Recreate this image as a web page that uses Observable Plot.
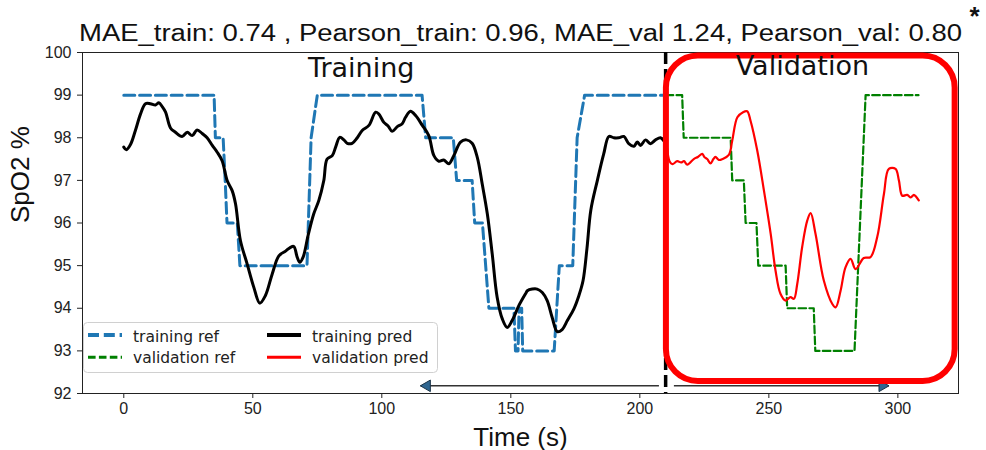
<!DOCTYPE html>
<html>
<head>
<meta charset="utf-8">
<script src="https://cdn.jsdelivr.net/npm/d3@7"></script>
<script src="https://cdn.jsdelivr.net/npm/@observablehq/plot@0.6"></script>
<style>
  body { margin: 0; background: #fff; }
  #chart { position: relative; width: 986px; height: 450px; }
  #legend { position: absolute; left: 83px; top: 322px; }
</style>
</head>
<body>
<div id="chart"></div>
<script>
// Each series is a list of [time (s), SpO2 (%)] samples.
const trainingRef = [
  [0, 99], [35, 99], [35.5, 98], [38.5, 98], [39.3, 97], [40, 96], [44, 96], [45, 95],
  [71, 95], [72.6, 98], [75, 99], [115.6, 99], [117, 98], [127.7, 98], [129, 97], [135, 97],
  [136, 96], [139, 96], [141.5, 94], [151.2, 94], [151.8, 93], [152.8, 93], [153.2, 94],
  [154.2, 94], [154.6, 93], [166.8, 93], [168.8, 95], [174, 95], [175.7, 98], [178.6, 99],
  [209.5, 99]
];

const validationRef = [
  [210, 99], [216.4, 99], [217, 98], [235.2, 98], [235.8, 97], [240.3, 97], [241, 96],
  [245.2, 96], [245.9, 95], [256.5, 95], [257.1, 94], [267.4, 94], [268, 93], [283.2, 93],
  [287.5, 99], [308, 99]
];

const trainingPred = [
  [0, 97.78], [1, 97.72], [2.6, 97.84], [4.5, 98.17], [6.5, 98.56], [8.4, 98.8], [10.3, 98.8],
  [12.3, 98.77], [13.6, 98.82], [14.9, 98.73], [16.2, 98.6], [18.1, 98.23], [20, 98.13],
  [22.6, 98.03], [24.6, 98.13], [26.5, 98.05], [28.4, 98.18], [30.4, 98.1], [32.3, 98.0],
  [34.3, 97.82], [36.2, 97.66], [38.1, 97.46], [40.1, 96.99], [42, 96.76], [43.3, 96.45],
  [45.2, 95.59], [47.8, 95.04], [50.4, 94.49], [52.7, 94.12], [54.9, 94.3], [57.5, 94.8],
  [60.1, 95.23], [62.7, 95.34], [64.6, 95.43], [65.9, 95.45], [67.2, 95.2], [68.2, 95.08],
  [69.5, 95.2], [71.4, 95.7], [73.6, 96.21], [75.6, 96.53], [77.5, 96.99], [78.8, 97.5],
  [80.8, 97.58], [82.1, 97.78], [83.7, 98.01], [85.3, 97.95], [86.6, 97.87], [88.5, 97.87],
  [90.5, 98.0], [92.4, 98.17], [95, 98.29], [97.6, 98.6], [98.8, 98.56], [100.8, 98.36],
  [102.5, 98.27], [104, 98.15], [106, 98.26], [107.9, 98.33], [109.2, 98.48], [111.1, 98.62],
  [113.1, 98.52], [115.7, 98.29], [118.2, 98.05], [120.2, 97.58], [122.1, 97.45], [124, 97.48],
  [126, 97.39], [127.9, 97.58], [130.5, 97.9], [132.8, 97.95], [135, 97.87], [137, 97.54],
  [138.9, 96.92], [140.9, 96.21], [142.8, 95.27], [144.7, 94.26], [146.7, 93.75], [148.6, 93.55],
  [150.5, 93.71], [153.1, 94.06], [155.7, 94.34], [156.4, 94.41], [158.3, 94.45], [160.2, 94.45],
  [162.2, 94.37], [164.1, 94.18], [166, 93.79], [168, 93.45], [169.9, 93.5], [171.9, 93.71],
  [174.4, 93.98], [176.4, 94.3], [178, 94.65], [179.5, 95.4], [181, 96.3], [183.5, 96.99],
  [186, 97.62], [188, 98.03], [189.9, 98.0], [191.8, 98.0], [193.8, 98.03], [195.7, 97.86],
  [197.7, 97.8], [199, 97.9], [200.3, 97.82], [202.2, 97.95], [204.1, 97.86], [206.1, 97.95],
  [208, 98.0], [209.3, 97.93]
];

const validationPred = [
  [210.6, 97.75], [211.5, 97.45], [212.6, 97.38], [214.5, 97.45], [216, 97.42], [217.1, 97.45],
  [218.4, 97.37], [220.9, 97.5], [222.5, 97.55], [224.2, 97.62], [225, 97.55], [226.1, 97.5],
  [227.4, 97.4], [228.5, 97.5], [229.3, 97.55], [230.6, 97.48], [232, 97.5], [234.5, 97.6],
  [235.8, 97.93], [237.8, 98.48], [240, 98.6], [241.6, 98.62], [242.9, 98.4], [245.5, 97.7],
  [248.1, 96.76], [250.7, 95.75], [252.6, 94.88], [254.5, 94.34], [256.5, 94.18], [258.4, 94.26],
  [259.7, 94.22], [261, 94.57], [262.9, 95.43], [264.9, 96.06], [266.2, 96.23], [268.1, 95.74],
  [271.3, 94.65], [274.6, 94.1], [275.9, 94.02], [277.8, 94.41], [279.7, 94.96], [281.7, 95.16],
  [283.6, 94.92], [286.8, 95.18], [289.4, 95.2], [292, 95.67], [294.6, 96.68], [296.5, 97.27],
  [299.1, 97.27], [300.4, 97.0], [301.7, 96.64], [303.6, 96.66], [305, 96.6], [306.2, 96.66],
  [307, 96.62], [308.1, 96.53]
];

const xTicks = [0, 50, 100, 150, 200, 250, 300];
const yTicks = [92, 93, 94, 95, 96, 97, 98, 99, 100];

const metricsTitle = "MAE_train: 0.74 , Pearson_train: 0.96, MAE_val 1.24, Pearson_val: 0.80";
const yLabel = "SpO2 %";
const xLabel = "Time (s)";

// boundary between the training and validation segments (s)
const splitTime = [210];
const phaseLabels = [
  { text: "Training", t: 92, v: 99.42 },
  { text: "Validation", t: 263, v: 99.47 }
];
// span arrows running out from the split line
const spanArrows = [
  { from: 207.4, to: 115, v: 92.18 },
  { from: 213.2, to: 296.5, v: 92.18 }
];
// highlighted validation region
const validationBox = [{ t1: 210.3, t2: 322.2, v1: 92.28, v2: 99.92 }];

const legendLabels = ["training ref", "validation ref", "training pred", "validation pred"];

// drawing styles per series
const seriesStyle = {
  "training ref":    { stroke: "#1f77b4", width: 3,   dash: "11,4.8",  curve: "linear" },
  "validation ref":  { stroke: "#008000", width: 2.2, dash: "7.6,3.3", curve: "linear" },
  "training pred":   { stroke: "#000000", width: 3,   dash: null,      curve: "catmull-rom" },
  "validation pred": { stroke: "#ff0000", width: 2.2, dash: null,      curve: "catmull-rom" }
};

const seriesLine = (data, name) => {
  const s = seriesStyle[name];
  return Plot.line(data, {
    x: d => d[0], y: d => d[1],
    stroke: s.stroke, strokeWidth: s.width,
    strokeDasharray: s.dash ?? undefined,
    curve: s.curve,
    strokeLinejoin: "round"
  });
};

const headFill = "#2f6690", headStroke = "#1b3346";

const svg = Plot.plot({
  width: 986,
  height: 450,
  marginLeft: 82,
  marginRight: 28,
  marginTop: 52,
  marginBottom: 57,
  style: { fontFamily: "'Liberation Sans', Arial, sans-serif", fontSize: "16px", color: "#222", background: "#fff" },
  x: { domain: [-16, 323.5], ticks: xTicks, tickSize: 5, tickPadding: 4, label: null },
  y: { domain: [92, 100], ticks: yTicks, tickSize: 5, tickPadding: 6, label: null },
  marks: [
    Plot.frame({ stroke: "#222", strokeWidth: 1 }),
    seriesLine(trainingRef, "training ref"),
    seriesLine(validationRef, "validation ref"),
    seriesLine(trainingPred, "training pred"),
    seriesLine(validationPred, "validation pred"),
    Plot.ruleX(splitTime, { stroke: "#000", strokeWidth: 3.5, strokeDasharray: "12,5" }),
    Plot.link(spanArrows, { x1: "from", x2: "to", y1: "v", y2: "v", stroke: "#333", strokeWidth: 1.5 }),
    Plot.dot(spanArrows.filter(a => a.to < a.from), {
      x: "to", y: "v", symbol: "triangle", r: 4.3, rotate: -90, dx: 6.5,
      fill: headFill, stroke: headStroke, strokeWidth: 1
    }),
    Plot.dot(spanArrows.filter(a => a.to > a.from), {
      x: "to", y: "v", symbol: "triangle", r: 4.3, rotate: 90, dx: -6.5,
      fill: headFill, stroke: headStroke, strokeWidth: 1
    }),
    Plot.rect(validationBox, {
      x1: "t1", x2: "t2", y1: "v1", y2: "v2",
      fill: "none", stroke: "#ff0000", strokeWidth: 6, rx: 32, ry: 32
    }),
    Plot.text(phaseLabels, {
      x: "t", y: "v", text: "text", lineAnchor: "bottom",
      fontSize: 27, fontFamily: "'DejaVu Sans', sans-serif", fill: "#111"
    }),
    Plot.text([metricsTitle], {
      text: d => d, frameAnchor: "top", dy: -12, lineAnchor: "bottom",
      fontSize: 23.5, fill: "#111"
    }),
    Plot.text([yLabel], {
      text: d => d, frameAnchor: "left", dx: -54, rotate: -90, lineAnchor: "bottom",
      fontSize: 26, fill: "#111"
    }),
    Plot.text([xLabel], {
      text: d => d, frameAnchor: "bottom", dy: 52, lineAnchor: "bottom",
      fontSize: 26, fill: "#111"
    }),
    Plot.text(["*"], {
      text: d => d, frameAnchor: "top-right", dx: 21, dy: -46,
      fontSize: 26, fontWeight: "bold", fill: "#111"
    })
  ]
});

// stretch the metrics line across the plot width
d3.select(svg).selectAll("text")
  .filter(function () { return this.textContent === metricsTitle; })
  .attr("textLength", 883)
  .attr("lengthAdjust", "spacingAndGlyphs");

const chart = document.getElementById("chart");
chart.appendChild(svg);

// legend: two columns, two rows
const legendW = 354, legendH = 50;
const legend = d3.create("svg")
  .attr("id", "legend")
  .attr("width", legendW + 1)
  .attr("height", legendH + 1)
  .style("font-family", "'DejaVu Sans', sans-serif")
  .style("font-size", "15.5px");

legend.append("rect")
  .attr("x", 0.5).attr("y", 0.5)
  .attr("width", legendW).attr("height", legendH)
  .attr("rx", 4)
  .attr("fill", "rgba(255,255,255,0.85)")
  .attr("stroke", "#d0d0d0");

const colSample = [5, 184], colText = [50, 229];
const rowLine = [13, 35.3], rowBase = [19.7, 41.3];

legendLabels.forEach((name, i) => {
  const col = Math.floor(i / 2), row = i % 2;
  const s = seriesStyle[name];
  legend.append("line")
    .attr("x1", colSample[col]).attr("x2", colSample[col] + 34)
    .attr("y1", rowLine[row]).attr("y2", rowLine[row])
    .attr("stroke", s.stroke)
    .attr("stroke-width", s.width + 0.8)
    .attr("stroke-dasharray", s.dash);
  legend.append("text")
    .attr("x", colText[col]).attr("y", rowBase[row])
    .attr("fill", "#222")
    .text(name);
});

chart.appendChild(legend.node());
</script>
</body>
</html>
